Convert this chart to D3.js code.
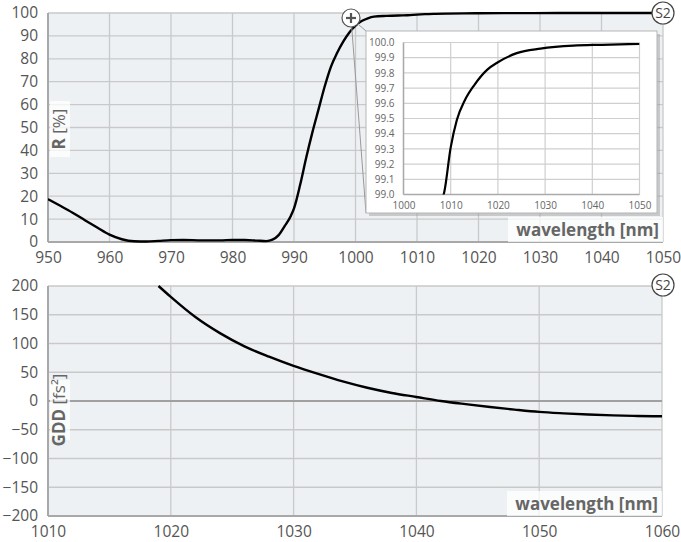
<!DOCTYPE html>
<html><head><meta charset="utf-8">
<script src="https://cdn.jsdelivr.net/npm/d3@7"></script>
<style>
html,body{margin:0;padding:0;background:#fff;}
svg{display:block;font-family:"Open Sans","Noto Sans",sans-serif;}
</style></head>
<body>
<svg id="chart" width="681" height="542"></svg>
<script>
// Reflectance data (top chart)
const rWavelength = [950,952,954,956,958,960,962,964,966,968,970,972,975,978,980,982,984,985.5,986.5,987.5,988.5,989.5,990,991,992,993,994,995,996,997,998,999,1000,1001,1002,1003,1005,1007,1008.5,1010,1011.3,1013,1015,1017.7,1020,1024,1029,1036,1042,1050];
const rValues = [18.7,15.8,12.8,9.5,6.3,3.2,1.2,0.3,0.2,0.5,0.8,0.9,0.7,0.7,0.9,0.9,0.6,0.4,1.0,3.0,7,11.5,14.7,25,37,48,58,68,76.5,82.5,87.5,91.5,94.5,96.5,97.7,98.4,98.75,98.93,99.0,99.31,99.49,99.62,99.72,99.82,99.87,99.93,99.96,99.98,99.985,99.99];
// GDD data (bottom chart)
const gddWavelength = [1019,1020,1022,1024,1026,1028,1030,1032,1034,1036,1038,1040,1042,1044,1046,1048,1050,1052,1054,1056,1058,1060];
const gddValues = [200,181,146,118,95,77,61,47,34,23,14,7,0,-5.5,-10.5,-15,-19,-21.5,-23.5,-25,-26,-26.6];
// Tick labels
const rXTicks = [950,960,970,980,990,1000,1010,1020,1030,1040,1050];
const rYTicks = [0,10,20,30,40,50,60,70,80,90,100];
const insetXTicks = [1000,1010,1020,1030,1040,1050];
const insetYTicks = [99.0,99.1,99.2,99.3,99.4,99.5,99.6,99.7,99.8,99.9,100.0];
const gddXTicks = [1010,1020,1030,1040,1050,1060];
const gddYTicks = [-200,-150,-100,-50,0,50,100,150,200];

const svg = d3.select("#chart");
const bg = "#eef1f4", gridC = "#c9c9c9", axisC = "#a8a8a8", txtC = "#555";

function panel(x, y, xTicks, yTicks, fmtY, clipId){
  const [x0,x1] = x.range(), [y1,y0] = y.range();
  const g = svg.append("g");
  g.append("rect").attr("x",x0).attr("y",y0).attr("width",x1-x0).attr("height",y1-y0).attr("fill",bg);
  g.selectAll(".vg").data(xTicks).join("line").attr("x1",d=>x(d)).attr("x2",d=>x(d)).attr("y1",y0).attr("y2",y1).attr("stroke",gridC).attr("stroke-width",1.3);
  g.selectAll(".hg").data(yTicks).join("line").attr("x1",x0).attr("x2",x1).attr("y1",d=>y(d)).attr("y2",d=>y(d)).attr("stroke",gridC).attr("stroke-width",1.3);
  g.append("line").attr("x1",x0).attr("x2",x0).attr("y1",y0).attr("y2",y1).attr("stroke",axisC).attr("stroke-width",2);
  g.append("line").attr("x1",x0).attr("x2",x1).attr("y1",y1).attr("y2",y1).attr("stroke",axisC).attr("stroke-width",2);
  const ax = d3.axisBottom(x).tickValues(xTicks).tickSize(0).tickPadding(10).tickFormat(d3.format("d"));
  const ay = d3.axisLeft(y).tickValues(yTicks).tickSize(0).tickPadding(10).tickFormat(fmtY);
  const gx = g.append("g").attr("transform",`translate(0,${y1})`).call(ax);
  const gy = g.append("g").attr("transform",`translate(${x0},0)`).call(ay);
  [gx,gy].forEach(a=>{a.select(".domain").remove(); a.selectAll("text").attr("fill",txtC).attr("font-size",15.5).attr("font-family","'Open Sans',sans-serif");});
  svg.append("clipPath").attr("id",clipId).append("rect").attr("x",x0).attr("y",y0-2).attr("width",x1-x0).attr("height",y1-y0+4);
  return g;
}

function s2(cx, cy){
  svg.append("circle").attr("cx",cx).attr("cy",cy).attr("r",11).attr("fill","#fff").attr("stroke","#444").attr("stroke-width",1.2);
  svg.append("text").attr("x",cx).attr("y",cy+5).attr("text-anchor","middle").attr("font-size",14).attr("fill","#444").text("S2");
}

function yTitle(cy, bold, rest, w){
  svg.append("rect").attr("x",50).attr("y",cy-w/2).attr("width",20).attr("height",w).attr("fill","#fff").attr("opacity",0.75);
  const t = svg.append("text").attr("transform",`translate(64.5,${cy}) rotate(-90)`).attr("text-anchor","middle").attr("font-size",17).attr("fill","#666");
  t.append("tspan").attr("font-weight","bold").text(bold);
  t.append("tspan").text(rest);
}
function xTitle(xr, yb){
  svg.append("rect").attr("x",xr-155).attr("y",yb-25).attr("width",155).attr("height",25).attr("fill","#fff").attr("opacity",0.75);
  svg.append("text").attr("x",xr-4).attr("y",yb-6).attr("text-anchor","end").attr("font-size",17).attr("font-weight","bold").attr("fill","#666").text("wavelength [nm]");
}

// ---------- Top chart ----------
const xR = d3.scaleLinear().domain([950,1050]).range([48,663]);
const yR = d3.scaleLinear().domain([0,100]).range([242,13]);
panel(xR, yR, rXTicks, rYTicks, d3.format("d"), "clipR");
const rData = rWavelength.map((w,i)=>({w, v:rValues[i]}));
const lineR = d3.line().x(d=>xR(d.w)).y(d=>yR(d.v)).curve(d3.curveMonotoneX);
svg.append("path").datum(rData).attr("d",lineR).attr("fill","none").attr("stroke","#000").attr("stroke-width",2.4).attr("clip-path","url(#clipR)");
xTitle(663, 242);
yTitle(129, "R", " [%]", 56);

// Inset
const ib = {x:366, y:31, w:291, h:182};
const plusC = {x:351, y:18};
svg.append("line").attr("x1",plusC.x).attr("y1",plusC.y).attr("x2",ib.x).attr("y2",ib.y).attr("stroke","#999").attr("stroke-width",1);
svg.append("line").attr("x1",plusC.x).attr("y1",plusC.y).attr("x2",ib.x).attr("y2",ib.y+ib.h).attr("stroke","#999").attr("stroke-width",1);
svg.append("rect").attr("x",ib.x+3).attr("y",ib.y+3).attr("width",ib.w).attr("height",ib.h).attr("fill","#999").attr("opacity",0.45);
svg.append("rect").attr("x",ib.x).attr("y",ib.y).attr("width",ib.w).attr("height",ib.h).attr("fill","#fff").attr("stroke","#b5b5b5").attr("stroke-width",1);
const xI = d3.scaleLinear().domain([1000,1050]).range([403.5,639.5]);
const yI = d3.scaleLinear().domain([99,100]).range([194.5,42.5]);
const gi = svg.append("g");
gi.selectAll(".ivg").data(insetXTicks).join("line").attr("x1",d=>xI(d)).attr("x2",d=>xI(d)).attr("y1",yI(100)).attr("y2",yI(99)).attr("stroke","#cfcfcf").attr("stroke-width",1.2);
gi.selectAll(".ihg").data(insetYTicks).join("line").attr("x1",xI(1000)).attr("x2",xI(1050)).attr("y1",d=>yI(d)).attr("y2",d=>yI(d)).attr("stroke","#cfcfcf").attr("stroke-width",1.2);
gi.append("line").attr("x1",xI(1000)).attr("x2",xI(1000)).attr("y1",yI(100)).attr("y2",yI(99)).attr("stroke","#aaa").attr("stroke-width",1.5);
gi.append("line").attr("x1",xI(1000)).attr("x2",xI(1050)).attr("y1",yI(99)).attr("y2",yI(99)).attr("stroke","#aaa").attr("stroke-width",1.5);
const gix = gi.append("g").attr("transform",`translate(0,${yI(99)})`).call(d3.axisBottom(xI).tickValues(insetXTicks).tickSize(0).tickPadding(7).tickFormat(d3.format("d")));
const giy = gi.append("g").attr("transform",`translate(${xI(1000)},0)`).call(d3.axisLeft(yI).tickValues(insetYTicks).tickSize(0).tickPadding(9).tickFormat(d3.format(".1f")));
[gix,giy].forEach(a=>{a.select(".domain").remove(); a.selectAll("text").attr("fill","#666").attr("font-size",10).attr("font-family","'Open Sans',sans-serif");});
svg.append("clipPath").attr("id","clipI").append("rect").attr("x",xI(1000)).attr("y",yI(100)-3).attr("width",xI(1050)-xI(1000)).attr("height",yI(99)-yI(100)+3);
const lineI = d3.line().x(d=>xI(d.w)).y(d=>yI(d.v)).curve(d3.curveMonotoneX);
svg.append("path").datum(rData).attr("d",lineI).attr("fill","none").attr("stroke","#000").attr("stroke-width",2.2).attr("clip-path","url(#clipI)");
// plus marker
svg.append("circle").attr("cx",plusC.x).attr("cy",plusC.y).attr("r",9).attr("fill","#fff").attr("stroke","#555").attr("stroke-width",1.2);
svg.append("line").attr("x1",plusC.x-5).attr("x2",plusC.x+5).attr("y1",plusC.y).attr("y2",plusC.y).attr("stroke","#555").attr("stroke-width",2.2);
svg.append("line").attr("x1",plusC.x).attr("x2",plusC.x).attr("y1",plusC.y-5).attr("y2",plusC.y+5).attr("stroke","#555").attr("stroke-width",2.2);
s2(663, 13);

// ---------- Bottom chart ----------
const xG = d3.scaleLinear().domain([1010,1060]).range([48,662]);
const yG = d3.scaleLinear().domain([-200,200]).range([516,286]);
panel(xG, yG, gddXTicks, gddYTicks, d3.format("d"), "clipG");
svg.append("line").attr("x1",48).attr("x2",662).attr("y1",yG(0)).attr("y2",yG(0)).attr("stroke","#a0a0a0").attr("stroke-width",2);
const gData = gddWavelength.map((w,i)=>({w, v:gddValues[i]}));
const lineG = d3.line().x(d=>xG(d.w)).y(d=>yG(d.v)).curve(d3.curveMonotoneX);
svg.append("path").datum(gData).attr("d",lineG).attr("fill","none").attr("stroke","#000").attr("stroke-width",2.4).attr("clip-path","url(#clipG)");
xTitle(662, 516);
yTitle(410, "GDD", " [fs²]", 60);
s2(663, 285);
</script>
</body></html>
